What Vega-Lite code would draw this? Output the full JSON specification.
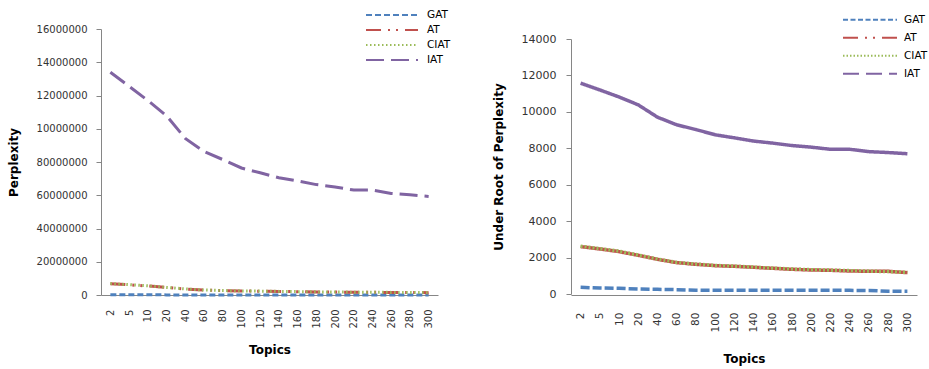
{
  "$schema": "https://vega.github.io/schema/vega-lite/v6.json",
  "background": "white",
  "padding": {"left": 7, "top": 7, "right": 5, "bottom": 5},
  "config": {
    "view": {"stroke": null},
    "font": "DejaVu Sans",
    "concat": {"spacing": 41},
    "axis": {
      "grid": false,
      "domainColor": "#868686",
      "tickColor": "#868686",
      "labelColor": "#333333",
      "labelFont": "DejaVu Sans",
      "titleFont": "DejaVu Sans",
      "titleFontWeight": "bold",
      "titleFontSize": 12,
      "titleColor": "#000000"
    },
    "legend": {
      "labelFont": "DejaVu Sans",
      "labelFontSize": 10.5,
      "labelColor": "#000000",
      "padding": 0,
      "rowPadding": 0
    }
  },
  "datasets": {
    "perplexityvals": [
      {"topic": 2, "series": "GAT", "value": 134000},
      {"topic": 5, "series": "GAT", "value": 108900},
      {"topic": 10, "series": "GAT", "value": 96700},
      {"topic": 20, "series": "GAT", "value": 72900},
      {"topic": 40, "series": "GAT", "value": 65500},
      {"topic": 60, "series": "GAT", "value": 56600},
      {"topic": 80, "series": "GAT", "value": 42000},
      {"topic": 100, "series": "GAT", "value": 40000},
      {"topic": 120, "series": "GAT", "value": 40000},
      {"topic": 140, "series": "GAT", "value": 40000},
      {"topic": 160, "series": "GAT", "value": 40000},
      {"topic": 180, "series": "GAT", "value": 40000},
      {"topic": 200, "series": "GAT", "value": 40000},
      {"topic": 220, "series": "GAT", "value": 40000},
      {"topic": 240, "series": "GAT", "value": 40000},
      {"topic": 260, "series": "GAT", "value": 38000},
      {"topic": 280, "series": "GAT", "value": 22500},
      {"topic": 300, "series": "GAT", "value": 21600},
      {"topic": 2, "series": "AT", "value": 6765000},
      {"topic": 5, "series": "AT", "value": 6116000},
      {"topic": 10, "series": "AT", "value": 5415000},
      {"topic": 20, "series": "AT", "value": 4516000},
      {"topic": 40, "series": "AT", "value": 3629000},
      {"topic": 60, "series": "AT", "value": 2965000},
      {"topic": 80, "series": "AT", "value": 2657000},
      {"topic": 100, "series": "AT", "value": 2424000},
      {"topic": 120, "series": "AT", "value": 2310000},
      {"topic": 140, "series": "AT", "value": 2149000},
      {"topic": 160, "series": "AT", "value": 1991000},
      {"topic": 180, "series": "AT", "value": 1839000},
      {"topic": 200, "series": "AT", "value": 1740000},
      {"topic": 220, "series": "AT", "value": 1693000},
      {"topic": 240, "series": "AT", "value": 1598000},
      {"topic": 260, "series": "AT", "value": 1553000},
      {"topic": 280, "series": "AT", "value": 1553000},
      {"topic": 300, "series": "AT", "value": 1374000},
      {"topic": 2, "series": "CIAT", "value": 6864000},
      {"topic": 5, "series": "CIAT", "value": 6200000},
      {"topic": 10, "series": "CIAT", "value": 5523000},
      {"topic": 20, "series": "CIAT", "value": 4580000},
      {"topic": 40, "series": "CIAT", "value": 3667000},
      {"topic": 60, "series": "CIAT", "value": 3010000},
      {"topic": 80, "series": "CIAT", "value": 2690000},
      {"topic": 100, "series": "CIAT", "value": 2465000},
      {"topic": 120, "series": "CIAT", "value": 2341000},
      {"topic": 140, "series": "CIAT", "value": 2176000},
      {"topic": 160, "series": "CIAT", "value": 2016000},
      {"topic": 180, "series": "CIAT", "value": 1877000},
      {"topic": 200, "series": "CIAT", "value": 1782000},
      {"topic": 220, "series": "CIAT", "value": 1716000},
      {"topic": 240, "series": "CIAT", "value": 1651000},
      {"topic": 260, "series": "CIAT", "value": 1575000},
      {"topic": 280, "series": "CIAT", "value": 1513000},
      {"topic": 300, "series": "CIAT", "value": 1416000},
      {"topic": 2, "series": "IAT", "value": 134000000},
      {"topic": 5, "series": "IAT", "value": 125500000},
      {"topic": 10, "series": "IAT", "value": 117000000},
      {"topic": 20, "series": "IAT", "value": 107800000},
      {"topic": 40, "series": "IAT", "value": 94200000},
      {"topic": 60, "series": "IAT", "value": 86300000},
      {"topic": 80, "series": "IAT", "value": 81500000},
      {"topic": 100, "series": "IAT", "value": 76400000},
      {"topic": 120, "series": "IAT", "value": 73500000},
      {"topic": 140, "series": "IAT", "value": 70500000},
      {"topic": 160, "series": "IAT", "value": 68600000},
      {"topic": 180, "series": "IAT", "value": 66400000},
      {"topic": 200, "series": "IAT", "value": 65000000},
      {"topic": 220, "series": "IAT", "value": 63100000},
      {"topic": 240, "series": "IAT", "value": 63100000},
      {"topic": 260, "series": "IAT", "value": 61100000},
      {"topic": 280, "series": "IAT", "value": 60300000},
      {"topic": 300, "series": "IAT", "value": 59300000}
    ],
    "rootvals": [
      {"topic": 2, "series": "GAT", "value": 366},
      {"topic": 5, "series": "GAT", "value": 330},
      {"topic": 10, "series": "GAT", "value": 311},
      {"topic": 20, "series": "GAT", "value": 270},
      {"topic": 40, "series": "GAT", "value": 256},
      {"topic": 60, "series": "GAT", "value": 238},
      {"topic": 80, "series": "GAT", "value": 205},
      {"topic": 100, "series": "GAT", "value": 200},
      {"topic": 120, "series": "GAT", "value": 200},
      {"topic": 140, "series": "GAT", "value": 200},
      {"topic": 160, "series": "GAT", "value": 200},
      {"topic": 180, "series": "GAT", "value": 200},
      {"topic": 200, "series": "GAT", "value": 200},
      {"topic": 220, "series": "GAT", "value": 200},
      {"topic": 240, "series": "GAT", "value": 200},
      {"topic": 260, "series": "GAT", "value": 195},
      {"topic": 280, "series": "GAT", "value": 150},
      {"topic": 300, "series": "GAT", "value": 147},
      {"topic": 2, "series": "AT", "value": 2601},
      {"topic": 5, "series": "AT", "value": 2473},
      {"topic": 10, "series": "AT", "value": 2327},
      {"topic": 20, "series": "AT", "value": 2125},
      {"topic": 40, "series": "AT", "value": 1905},
      {"topic": 60, "series": "AT", "value": 1722},
      {"topic": 80, "series": "AT", "value": 1630},
      {"topic": 100, "series": "AT", "value": 1557},
      {"topic": 120, "series": "AT", "value": 1520},
      {"topic": 140, "series": "AT", "value": 1466},
      {"topic": 160, "series": "AT", "value": 1411},
      {"topic": 180, "series": "AT", "value": 1356},
      {"topic": 200, "series": "AT", "value": 1319},
      {"topic": 220, "series": "AT", "value": 1301},
      {"topic": 240, "series": "AT", "value": 1264},
      {"topic": 260, "series": "AT", "value": 1246},
      {"topic": 280, "series": "AT", "value": 1246},
      {"topic": 300, "series": "AT", "value": 1172},
      {"topic": 2, "series": "CIAT", "value": 2620},
      {"topic": 5, "series": "CIAT", "value": 2490},
      {"topic": 10, "series": "CIAT", "value": 2350},
      {"topic": 20, "series": "CIAT", "value": 2140},
      {"topic": 40, "series": "CIAT", "value": 1915},
      {"topic": 60, "series": "CIAT", "value": 1735},
      {"topic": 80, "series": "CIAT", "value": 1640},
      {"topic": 100, "series": "CIAT", "value": 1570},
      {"topic": 120, "series": "CIAT", "value": 1530},
      {"topic": 140, "series": "CIAT", "value": 1475},
      {"topic": 160, "series": "CIAT", "value": 1420},
      {"topic": 180, "series": "CIAT", "value": 1370},
      {"topic": 200, "series": "CIAT", "value": 1335},
      {"topic": 220, "series": "CIAT", "value": 1310},
      {"topic": 240, "series": "CIAT", "value": 1285},
      {"topic": 260, "series": "CIAT", "value": 1255},
      {"topic": 280, "series": "CIAT", "value": 1230},
      {"topic": 300, "series": "CIAT", "value": 1190},
      {"topic": 2, "series": "IAT", "value": 11576},
      {"topic": 5, "series": "IAT", "value": 11203},
      {"topic": 10, "series": "IAT", "value": 10817},
      {"topic": 20, "series": "IAT", "value": 10383},
      {"topic": 40, "series": "IAT", "value": 9706},
      {"topic": 60, "series": "IAT", "value": 9290},
      {"topic": 80, "series": "IAT", "value": 9028},
      {"topic": 100, "series": "IAT", "value": 8741},
      {"topic": 120, "series": "IAT", "value": 8573},
      {"topic": 140, "series": "IAT", "value": 8396},
      {"topic": 160, "series": "IAT", "value": 8283},
      {"topic": 180, "series": "IAT", "value": 8149},
      {"topic": 200, "series": "IAT", "value": 8062},
      {"topic": 220, "series": "IAT", "value": 7944},
      {"topic": 240, "series": "IAT", "value": 7944},
      {"topic": 260, "series": "IAT", "value": 7817},
      {"topic": 280, "series": "IAT", "value": 7765},
      {"topic": 300, "series": "IAT", "value": 7701}
    ]
  },
  "resolve": {
    "scale": {"color": "independent", "strokeDash": "independent"},
    "legend": {"color": "independent", "strokeDash": "independent"}
  },
  "hconcat": [
    {
      "width": 337,
      "height": 266,
      "data": {"name": "perplexityvals"},
      "mark": {"type": "line", "strokeWidth": 3},
      "encoding": {
        "x": {
          "field": "topic",
          "type": "ordinal",
          "scale": {"type": "point", "padding": 0.5},
          "axis": {"title": "Topics", "labelAngle": -90, "ticks": false, "labelPadding": 14, "labelFontSize": 10, "titlePadding": 16}
        },
        "y": {
          "field": "value",
          "type": "quantitative",
          "scale": {"domain": [0, 160000000]},
          "axis": {
            "title": "Perplexity",
            "values": [0, 20000000, 40000000, 60000000, 80000000, 100000000, 120000000, 140000000, 160000000],
            "labelExpr": "datum.value >= 100000000 ? format(datum.value / 10, 'd') : format(datum.value, 'd')",
            "labelFontSize": 10,
            "tickSize": 5,
            "labelPadding": 9,
            "titlePadding": 16
          }
        },
        "color": {
          "field": "series",
          "type": "nominal",
          "scale": {"domain": ["GAT", "AT", "CIAT", "IAT"], "range": ["#4F81BD", "#C0504D", "#9BBB59", "#8064A2"]},
          "legend": {"orient": "none", "legendX": 264, "legendY": -21.5, "title": null, "symbolType": "stroke", "symbolSize": 2704, "symbolStrokeWidth": 2, "clipHeight": 15, "labelOffset": 8, "symbolOffset": 0}
        },
        "strokeDash": {
          "field": "series",
          "type": "nominal",
          "scale": {"domain": ["GAT", "AT", "CIAT", "IAT"], "range": [[6, 3], [15, 7, 2, 6, 2, 7], [1.5, 2.5], [18, 7]]},
          "legend": {"orient": "none", "legendX": 264, "legendY": -21.5, "title": null, "symbolType": "stroke", "symbolSize": 2704, "symbolStrokeWidth": 2, "clipHeight": 15, "labelOffset": 8, "symbolOffset": 0}
        }
      }
    },
    {
      "width": 346,
      "height": 266,
      "data": {"name": "rootvals"},
      "mark": {"type": "line", "strokeWidth": 3.5},
      "encoding": {
        "x": {
          "field": "topic",
          "type": "ordinal",
          "scale": {"type": "point", "padding": 0.5},
          "axis": {"title": "Topics", "labelAngle": -90, "ticks": false, "labelPadding": 17, "labelFontSize": 10.5, "titlePadding": 21}
        },
        "y": {
          "field": "value",
          "type": "quantitative",
          "scale": {"domain": [0, 14000], "range": [265, 10]},
          "axis": {
            "title": "Under Root of Perplexity",
            "values": [0, 2000, 4000, 6000, 8000, 10000, 12000, 14000],
            "format": "d",
            "labelFontSize": 11,
            "tickSize": 5,
            "labelPadding": 10,
            "titlePadding": 16
          }
        },
        "color": {
          "field": "series",
          "type": "nominal",
          "scale": {"domain": ["GAT", "AT", "CIAT", "IAT"], "range": ["#4F81BD", "#C0504D", "#9BBB59", "#8064A2"]},
          "legend": {
            "orient": "none", "legendX": 271, "legendY": -18.3, "title": null, "symbolType": "stroke", "symbolSize": 2916, "symbolStrokeWidth": 2, "clipHeight": 18, "labelOffset": 6, "symbolOffset": 0,
            "encode": {"symbols": {"update": {"strokeDash": {"signal": "datum.value === 'GAT' ? [5, 2.5] : datum.value === 'AT' ? [15, 7, 2, 6, 2, 7] : datum.value === 'CIAT' ? [1.5, 2] : [16, 7]"}}}}
          }
        },
        "strokeDash": {
          "condition": [
            {"test": "datum.series === 'GAT'", "value": [9, 3]},
            {"test": "datum.series === 'CIAT'", "value": [2, 2]}
          ],
          "value": [1, 0]
        }
      }
    }
  ]
}
